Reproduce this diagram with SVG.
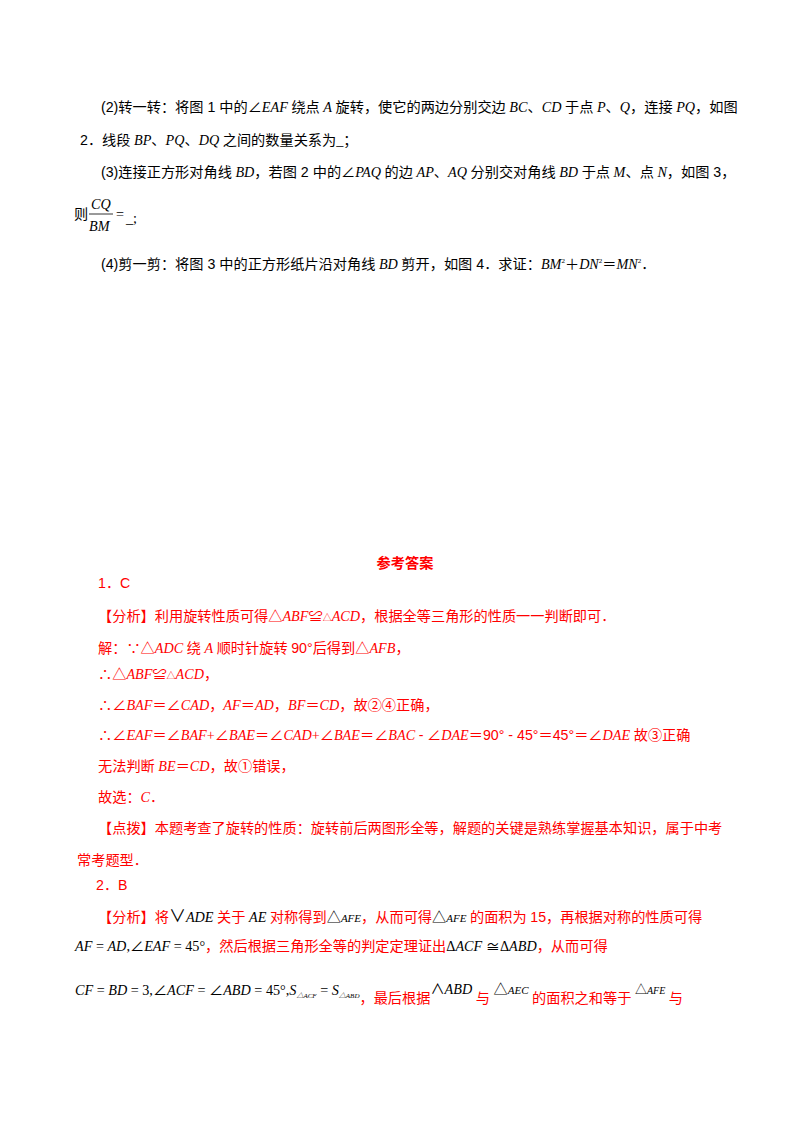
<svg xmlns="http://www.w3.org/2000/svg" width="800" height="1132" viewBox="0 0 800 1132">
<style>
text{font-family:"Liberation Serif","Noto Sans CJK SC",serif;font-size:14.2px;fill:#000}
.r{fill:#ff0000}
.i{font-style:italic}
.s{font-family:"Liberation Sans","Noto Sans CJK SC",sans-serif}
.m{fill:#000}
</style>
<rect width="800" height="1132" fill="#fff"/>
<g id="question">
<text x="101" y="112"><tspan class="s">(2)</tspan>转一转：将图<tspan class="s"> 1 </tspan>中的∠<tspan class="i">EAF</tspan> 绕点 <tspan class="i">A</tspan> 旋转，使它的两边分别交边 <tspan class="i">BC</tspan>、<tspan class="i">CD</tspan> 于点 <tspan class="i">P</tspan>、<tspan class="i">Q</tspan>，连接 <tspan class="i">PQ</tspan>，如图</text>
<text x="80" y="145"><tspan class="s">2</tspan>．线段 <tspan class="i">BP</tspan>、<tspan class="i">PQ</tspan>、<tspan class="i">DQ</tspan> 之间的数量关系为_；</text>
<text x="101" y="177"><tspan class="s">(3)</tspan>连接正方形对角线 <tspan class="i">BD</tspan>，若图<tspan class="s"> 2 </tspan>中的∠<tspan class="i">PAQ</tspan> 的边 <tspan class="i">AP</tspan>、<tspan class="i">AQ</tspan> 分别交对角线 <tspan class="i">BD</tspan> 于点 <tspan class="i">M</tspan>、点 <tspan class="i">N</tspan>，如图<tspan class="s"> 3</tspan>，</text>
<text x="74" y="219">则</text>
<text x="91" y="209" class="i" font-size="13">CQ</text>
<line x1="89" y1="214" x2="113" y2="214" stroke="#000" stroke-width="0.8"/>
<text x="89" y="231" class="i" font-size="13">BM</text>
<text x="116" y="219">=</text>
<text x="126" y="223">_;</text>
<text x="101" y="269"><tspan class="s">(4)</tspan>剪一剪：将图<tspan class="s"> 3 </tspan>中的正方形纸片沿对角线 <tspan class="i">BD</tspan> 剪开，如图<tspan class="s"> 4</tspan>．求证：<tspan class="i">BM</tspan><tspan font-size="7" dy="-6">2</tspan><tspan dy="6">＋</tspan><tspan class="i">DN</tspan><tspan font-size="7" dy="-6">2</tspan><tspan dy="6">＝</tspan><tspan class="i">MN</tspan><tspan font-size="7" dy="-6">2</tspan><tspan dy="6">．</tspan></text>
</g>
<g id="answer">
<text x="405" y="568" class="r" text-anchor="middle" font-weight="bold">参考答案</text>
<text x="98" y="588" class="r s">1．C</text>
<text x="98" y="621" class="r">【分析】利用旋转性质可得△<tspan class="i">ABF</tspan>≌<tspan font-size="9">△</tspan><tspan class="i">ACD</tspan>，根据全等三角形的性质一一判断即可．</text>
<text x="98" y="653" class="r">解：∵△<tspan class="i">ADC</tspan> 绕 <tspan class="i">A</tspan> 顺时针旋转 <tspan class="s">90°</tspan>后得到△<tspan class="i">AFB</tspan>，</text>
<text x="98" y="679" class="r">∴△<tspan class="i">ABF</tspan>≌<tspan font-size="9">△</tspan><tspan class="i">ACD</tspan>，</text>
<text x="98" y="710" class="r">∴∠<tspan class="i">BAF</tspan>＝∠<tspan class="i">CAD</tspan>，<tspan class="i">AF</tspan>＝<tspan class="i">AD</tspan>，<tspan class="i">BF</tspan>＝<tspan class="i">CD</tspan>，故②④正确，</text>
<text x="98" y="740" class="r">∴∠<tspan class="i">EAF</tspan>＝∠<tspan class="i">BAF</tspan>+∠<tspan class="i">BAE</tspan>＝∠<tspan class="i">CAD</tspan>+∠<tspan class="i">BAE</tspan>＝∠<tspan class="i">BAC</tspan> <tspan class="s">-</tspan> ∠<tspan class="i">DAE</tspan>＝<tspan class="s">90° - 45°</tspan>＝<tspan class="s">45°</tspan>＝∠<tspan class="i">DAE</tspan> 故③正确</text>
<text x="98" y="771" class="r">无法判断 <tspan class="i">BE</tspan>＝<tspan class="i">CD</tspan>，故①错误，</text>
<text x="98" y="802" class="r">故选：<tspan class="i">C</tspan>．</text>
<text x="98" y="833" class="r">【点拨】本题考查了旋转的性质：旋转前后两图形全等，解题的关键是熟练掌握基本知识，属于中考</text>
<text x="77" y="865" class="r">常考题型．</text>
<text x="96" y="890" class="r s">2．B</text>
<text x="98" y="922" class="r">【分析】将<tspan class="m" font-size="17">∨</tspan><tspan class="m i">ADE</tspan> 关于 <tspan class="m i">AE</tspan> 对称得到<tspan class="m">△</tspan><tspan class="m i" font-size="11">AFE</tspan>，从而可得<tspan class="m">△</tspan><tspan class="m i" font-size="11">AFE</tspan> 的面积为 <tspan class="s">15</tspan>，再根据对称的性质可得</text>
<text x="75" y="951" class="r"><tspan class="m i">AF</tspan><tspan class="m"> = </tspan><tspan class="m i">AD</tspan><tspan class="m">,∠</tspan><tspan class="m i">EAF</tspan><tspan class="m"> = 45°</tspan>，然后根据三角形全等的判定定理证出<tspan class="m">Δ</tspan><tspan class="m i">ACF</tspan><tspan class="m"> ≅Δ</tspan><tspan class="m i">ABD</tspan>，从而可得</text>
<text x="75" y="995" class="r"><tspan class="m i">CF</tspan><tspan class="m"> = </tspan><tspan class="m i">BD</tspan><tspan class="m"> = 3,∠</tspan><tspan class="m i">ACF</tspan><tspan class="m"> = ∠</tspan><tspan class="m i">ABD</tspan><tspan class="m"> = 45°,</tspan><tspan class="m i">S</tspan><tspan class="m i" font-size="7" dy="3">△ACF</tspan><tspan class="m" dy="-3"> = </tspan><tspan class="m i">S</tspan><tspan class="m i" font-size="7" dy="3">△ABD</tspan><tspan dy="5">，最后根据</tspan><tspan class="m" dy="-9">∧</tspan><tspan class="m i">ABD</tspan><tspan dy="9"> 与 </tspan><tspan class="m" dy="-9">△</tspan><tspan class="m i" font-size="11">AEC</tspan><tspan dy="9"> 的面积之和等于 </tspan><tspan class="m" dy="-9" font-size="12">△</tspan><tspan class="m i" font-size="10">AFE</tspan><tspan dy="9"> 与</tspan></text>
</g>
</svg>
